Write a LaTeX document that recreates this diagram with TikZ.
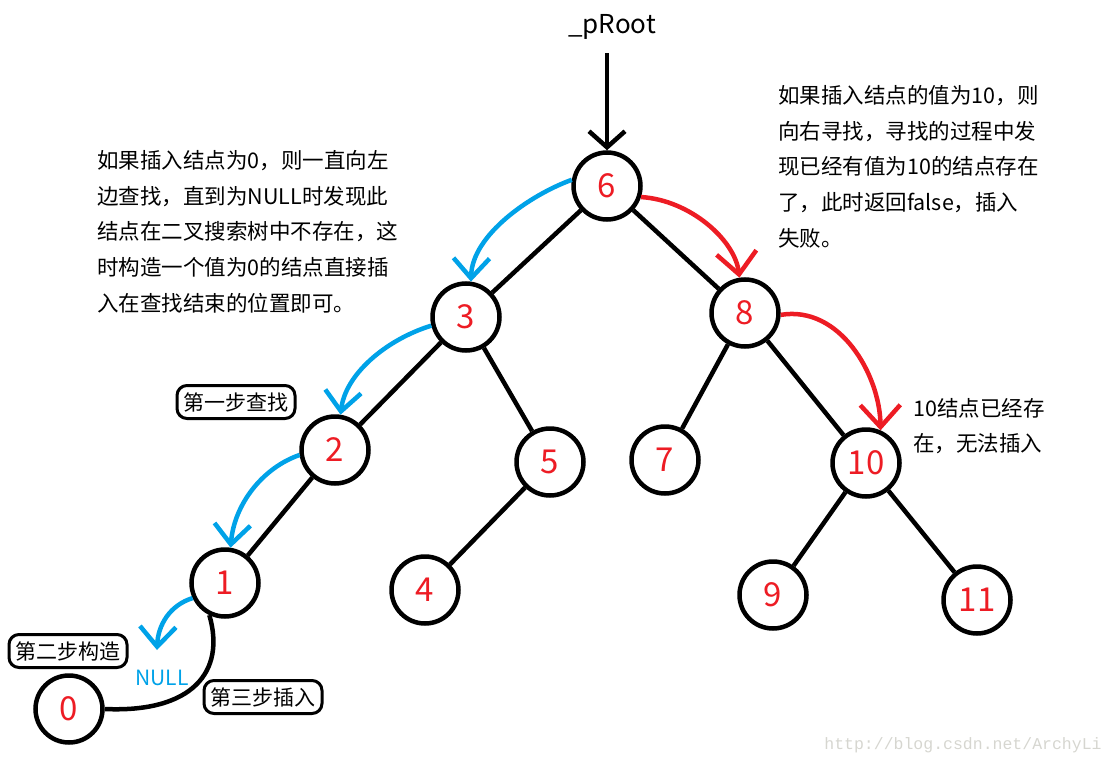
\documentclass[tikz,border=0pt]{standalone}
\usepackage{fontspec}
\setmainfont{Noto Sans CJK SC}
\setmonofont{Liberation Mono}
\usepackage{tikz}
\usetikzlibrary{arrows.meta,positioning}
\usepackage{xcolor}
\definecolor{bstred}{RGB}{237,28,36}
\definecolor{bstblue}{RGB}{0,162,232}
\definecolor{bstgray}{RGB}{214,214,208}
\tikzstyle{treenode} = [circle, draw, line width=4.5pt, minimum size=67pt, inner sep=0pt, text=bstred, font=\fontsize{33}{33}\selectfont]
\tikzstyle{edge} = [line width=4.5pt]
\tikzstyle{rootarrow} = [line width=4.5pt, -{Straight Barb[length=16pt,width=36pt]}]
\tikzstyle{bluearrow} = [line width=4.5pt, color=bstblue, -{Straight Barb[length=20pt,width=36pt]}]
\tikzstyle{redarrow} = [line width=4.5pt, color=bstred, -{Straight Barb[length=22pt,width=40pt]}]
\tikzstyle{stepbox} = [rectangle, rounded corners=10pt, draw, line width=3pt, minimum width=118pt, minimum height=33pt, inner sep=4pt, font=\fontsize{21}{21}\selectfont]
\tikzstyle{note} = [align=left, inner sep=0pt, anchor=north west, font=\fontsize{21.5}{35.7}\selectfont]

\begin{document}
\begin{tikzpicture}[x=1pt, y=-1pt]
    \useasboundingbox (0,0) rectangle (1116,765);

    % Root pointer
    \node[font=\fontsize{26}{26}\selectfont] (proot) at (612,27) {\_pRoot};

    % Tree nodes
    \node[treenode] (n6) at (607,186) {6};
    \node[treenode] (n3) at (466,317) {3};
    \node[treenode] (n8) at (745,313) {8};
    \node[treenode] (n2) at (335,450) {2};
    \node[treenode] (n5) at (550,462) {5};
    \node[treenode] (n7) at (665,460) {7};
    \node[treenode] (n10) at (866,463) {10};
    \node[treenode] (n1) at (225,583) {1};
    \node[treenode] (n4) at (425,590) {4};
    \node[treenode] (n9) at (773,595) {9};
    \node[treenode] (n11) at (977,600) {11};
    \node[treenode] (n0) at (69,709) {0};

    % Edges
    \draw[rootarrow] ([yshift=-10pt]n6 |- proot.south) -- (n6.north);
    \draw[edge] (n6) -- (n3);
    \draw[edge] (n6) -- (n8);
    \draw[edge] (n3) -- (n2);
    \draw[edge] (n3) -- (n5);
    \draw[edge] (n8) -- (n7);
    \draw[edge] (n8) -- (n10);
    \draw[edge] (n2) -- (n1);
    \draw[edge] (n5) -- (n4);
    \draw[edge] (n10) -- (n9);
    \draw[edge] (n10) -- (n11);

    % Search for 0 (blue)
    \node[font=\fontsize{21}{21}\selectfont, text=bstblue] (null) at (162,678) {NULL};
    \coordinate (nullpt) at (157,650);
    \draw[bluearrow] (n6.170) .. controls (530,195) and (472,235) .. (n3.82);
    \draw[bluearrow] (n3.194) .. controls (385,340) and (345,375) .. (n2.81);
    \draw[bluearrow] (n2.188) .. controls (262,468) and (234,505) .. (n1.81);
    \draw[bluearrow] (n1.205) .. controls (170,605) and (158,625) .. (nullpt);
    \draw[edge] (n1.244) .. controls (226,672) and (192,713) .. (n0.0);

    % Search for 10 (red)
    \draw[redarrow] (n6.342) .. controls (690,200) and (735,240) .. (n8.99);
    \draw[redarrow] (n8.357) .. controls (840,305) and (880,375) .. (n10.66);

    % Step labels
    \node[stepbox] (step1) at (236,402) {第一步查找};
    \node[stepbox] (step2) at (68,651) {第二步构造};
    \node[stepbox] (step3) at (263,697) {第三步插入};

    % Notes
    \node[note] (leftnote) at (97,150) {如果插入结点为0，则一直向左\\边查找，直到为NULL时发现此\\结点在二叉搜索树中不存在，这\\时构造一个值为0的结点直接插\\入在查找结束的位置即可。};
    \node[note] (rightnote) at (778,85) {如果插入结点的值为10，则\\向右寻找，寻找的过程中发\\现已经有值为10的结点存在\\了，此时返回false，插入\\失败。};
    \node[note] (existnote) at (913,398) {10结点已经存\\在，无法插入};

    % Watermark
    \node[text=bstgray, font=\ttfamily\fontsize{16.5}{16.5}\selectfont] (mark) at (963,745) {http://blog.csdn.net/ArchyLi};
\end{tikzpicture}
\end{document}
